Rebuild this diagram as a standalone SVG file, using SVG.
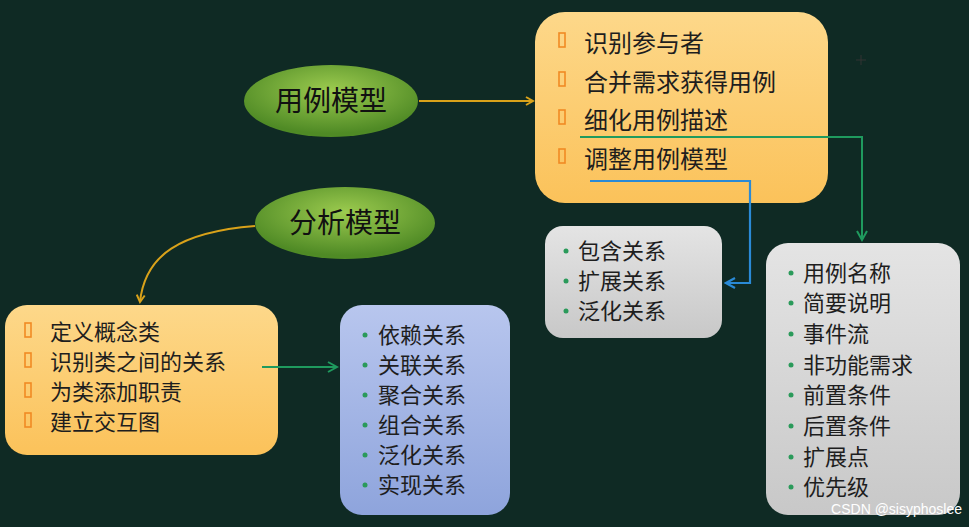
<svg xmlns="http://www.w3.org/2000/svg" width="969" height="527" viewBox="0 0 969 527">
<style>
.t{font-family:"Noto Sans CJK SC","Liberation Sans",sans-serif;fill:#1e1e1e}
.e{font-family:"Noto Sans CJK SC","Liberation Sans",sans-serif;fill:#111;font-size:28px}
.sq{fill:none;stroke:#f08a24;stroke-width:1.6}
.dot{fill:#2a9a5a}
</style>
<defs>
<radialGradient id="eg" cx="50%" cy="35%" r="60%"><stop offset="0" stop-color="#9ccb4f"/><stop offset="1" stop-color="#4f8a25"/></radialGradient>
<linearGradient id="og" x1="0" y1="0" x2="0" y2="1"><stop offset="0" stop-color="#fdd88a"/><stop offset="1" stop-color="#fbc25a"/></linearGradient>
<linearGradient id="gg" x1="0" y1="0" x2="0" y2="1"><stop offset="0" stop-color="#e4e4e4"/><stop offset="1" stop-color="#c8c8c8"/></linearGradient>
<linearGradient id="bg" x1="0" y1="0" x2="0" y2="1"><stop offset="0" stop-color="#b8c6ee"/><stop offset="1" stop-color="#8ea4dc"/></linearGradient>
<marker id="ao" markerWidth="10" markerHeight="10" refX="8" refY="5" orient="auto" markerUnits="userSpaceOnUse"><path d="M1,1 L8,5 L1,9" fill="none" stroke="#d9a21a" stroke-width="2"/></marker>
<marker id="ag" markerWidth="12" markerHeight="12" refX="10" refY="6" orient="auto" markerUnits="userSpaceOnUse"><path d="M1,1 L10,6 L1,11" fill="none" stroke="#1f9a5e" stroke-width="2"/></marker>
<marker id="ab" markerWidth="12" markerHeight="12" refX="10" refY="6" orient="auto" markerUnits="userSpaceOnUse"><path d="M1,1 L10,6 L1,11" fill="none" stroke="#2a8ad6" stroke-width="2.2"/></marker>
</defs>
<rect width="969" height="527" fill="#0f2a24"/>
<path d="M856,60 H866 M861,55 V65" stroke="#333" stroke-width="1"/>
<g id="usecase"><ellipse cx="331" cy="101" rx="87" ry="36" fill="url(#eg)"/><text class="e" x="331" y="111" text-anchor="middle">用例模型</text></g>
<g id="analysis"><ellipse cx="345" cy="223" rx="90" ry="36" fill="url(#eg)"/><text class="e" x="345" y="233" text-anchor="middle">分析模型</text></g>
<g id="steps1"><rect x="535" y="12" width="293" height="191" rx="30" fill="url(#og)"/>
<g class="sq"><rect x="559" y="33" width="6" height="14"/><rect x="559" y="72" width="6" height="14"/><rect x="559" y="110" width="6" height="14"/><rect x="559" y="149" width="6" height="14"/></g>
<g class="t" font-size="24"><text x="584" y="52">识别参与者</text><text x="584" y="91">合并需求获得用例</text><text x="584" y="129">细化用例描述</text><text x="584" y="168">调整用例模型</text></g></g>
<g id="rel1"><rect x="545" y="226" width="177" height="112" rx="18" fill="url(#gg)"/>
<g class="dot"><circle cx="566" cy="251" r="2.5"/><circle cx="566" cy="281" r="2.5"/><circle cx="566" cy="311" r="2.5"/></g>
<g class="t" font-size="22"><text x="578" y="259">包含关系</text><text x="578" y="289">扩展关系</text><text x="578" y="319">泛化关系</text></g></g>
<g id="desc"><rect x="766" y="243" width="194" height="272" rx="22" fill="url(#gg)"/>
<g class="dot"><circle cx="791" cy="273" r="2.5"/><circle cx="791" cy="303" r="2.5"/><circle cx="791" cy="334" r="2.5"/><circle cx="791" cy="365" r="2.5"/><circle cx="791" cy="395" r="2.5"/><circle cx="791" cy="426" r="2.5"/><circle cx="791" cy="457" r="2.5"/><circle cx="791" cy="487" r="2.5"/></g>
<g class="t" font-size="22"><text x="803" y="281">用例名称</text><text x="803" y="311">简要说明</text><text x="803" y="342">事件流</text><text x="803" y="373">非功能需求</text><text x="803" y="403">前置条件</text><text x="803" y="434">后置条件</text><text x="803" y="465">扩展点</text><text x="803" y="495">优先级</text></g></g>
<g id="steps2"><rect x="5" y="305" width="273" height="150" rx="22" fill="url(#og)"/>
<g class="sq"><rect x="25" y="323" width="6" height="14"/><rect x="25" y="353" width="6" height="14"/><rect x="25" y="383" width="6" height="14"/><rect x="25" y="413" width="6" height="14"/></g>
<g class="t" font-size="22"><text x="50" y="340">定义概念类</text><text x="50" y="370">识别类之间的关系</text><text x="50" y="400">为类添加职责</text><text x="50" y="430">建立交互图</text></g></g>
<g id="rel2"><rect x="340" y="305" width="170" height="210" rx="22" fill="url(#bg)"/>
<g class="dot"><circle cx="365" cy="335" r="2.5"/><circle cx="365" cy="365" r="2.5"/><circle cx="365" cy="395" r="2.5"/><circle cx="365" cy="425" r="2.5"/><circle cx="365" cy="455" r="2.5"/><circle cx="365" cy="485" r="2.5"/></g>
<g class="t" font-size="22"><text x="378" y="343">依赖关系</text><text x="378" y="373">关联关系</text><text x="378" y="403">聚合关系</text><text x="378" y="433">组合关系</text><text x="378" y="463">泛化关系</text><text x="378" y="493">实现关系</text></g></g>
<g id="connectors" fill="none" stroke-width="2">
<path d="M419,101 H533" stroke="#d9a21a" marker-end="url(#ao)"/>
<path d="M255,226 C180,232 145,255 140,302" stroke="#d9a21a" marker-end="url(#ao)"/>
<path d="M262,367 H337" stroke="#1f9a5e" marker-end="url(#ag)"/>
<path d="M580,137 H862 V240" stroke="#1f9a5e" marker-end="url(#ag)"/>
<path d="M590,181 H750 V283 H726" stroke="#2a8ad6" stroke-width="2.2" marker-end="url(#ab)"/>
</g>
<text x="962" y="514" text-anchor="end" font-family="Liberation Sans,sans-serif" font-size="14" fill="#ffffff">CSDN @sisyphoslee</text>
</svg>
